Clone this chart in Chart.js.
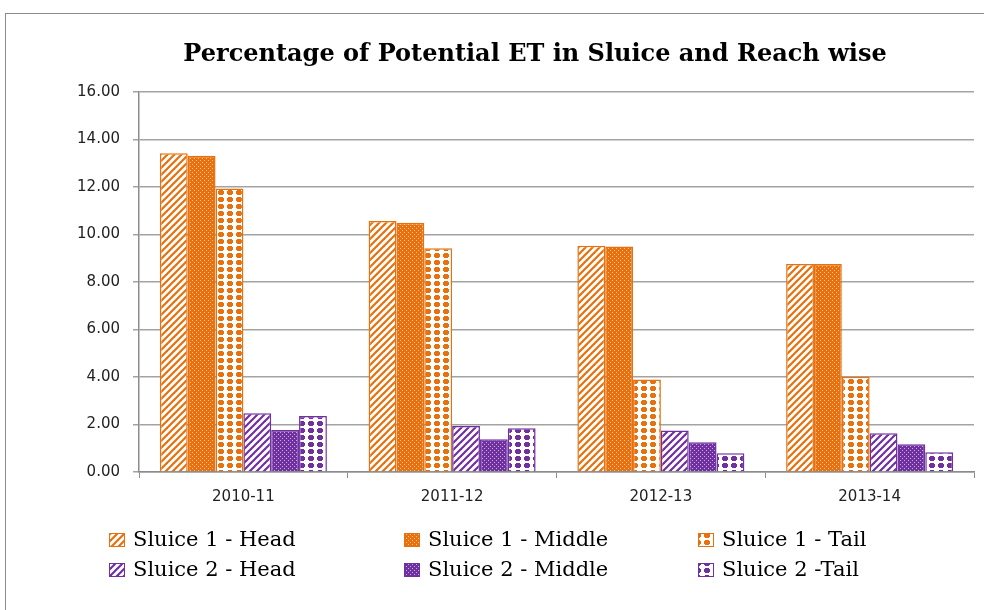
<!DOCTYPE html>
<html>
<head>
<meta charset="utf-8">
<script src="https://cdn.jsdelivr.net/npm/chart.js@4/dist/chart.umd.min.js"></script>
<style>
  html, body { margin: 0; padding: 0; background: #fff; }
  #wrap { position: relative; width: 984px; height: 610px; overflow: hidden; }
  #frame { position: absolute; left: 5px; top: 13px; width: 1000px; height: 700px;
           border-left: 1.5px solid #8c8c8c; border-top: 1.5px solid #8c8c8c; }
  canvas { position: absolute; left: 0; top: 0; }
</style>
</head>
<body>
<div id="wrap">
  <div id="frame"></div>
  <canvas id="chart" width="984" height="610"></canvas>
</div>
<script>
const years = ['2010-11', '2011-12', '2012-13', '2013-14'];
const s1Head = [13.42, 10.57, 9.53, 8.76];
const s1Middle = [13.32, 10.50, 9.50, 8.76];
const s1Tail = [11.94, 9.42, 3.89, 4.01];
const s2Head = [2.47, 1.94, 1.75, 1.63];
const s2Middle = [1.77, 1.38, 1.25, 1.17];
const s2Tail = [2.36, 1.84, 0.79, 0.83];
const seriesNames = ['Sluice 1 - Head', 'Sluice 1 - Middle', 'Sluice 1 - Tail',
                     'Sluice 2 - Head', 'Sluice 2 - Middle', 'Sluice 2 -Tail'];
const chartTitle = 'Percentage of Potential ET in Sluice and Reach wise';

const ORANGE = '#e8710d';
const PURPLE = '#7030a0';

// small canvas tiles used as bar fills
function makePattern(w, h, draw) {
  const c = document.createElement('canvas');
  c.width = w; c.height = h;
  draw(c.getContext('2d'), w, h);
  return document.createElement('canvas').getContext('2d').createPattern(c, 'repeat');
}

function stripes(color) {
  return makePattern(7, 7, (g, w, h) => {
    g.fillStyle = '#fff';
    g.fillRect(0, 0, w, h);
    g.strokeStyle = color;
    g.lineWidth = 2.2;
    [[-7, 7, 7, -7], [0, 7, 7, 0], [0, 14, 14, 0]].forEach(l => {
      g.beginPath(); g.moveTo(l[0], l[1]); g.lineTo(l[2], l[3]); g.stroke();
    });
  });
}

function fineDots(color) {
  return makePattern(4, 4, (g, w, h) => {
    g.fillStyle = color;
    g.fillRect(0, 0, w, h);
    g.fillStyle = 'rgba(255,255,255,0.6)';
    g.fillRect(0, 0, 1, 1);
    g.fillRect(2, 2, 1, 1);
  });
}

function bigDots(color) {
  return makePattern(9, 7, (g, w, h) => {
    g.fillStyle = '#fff';
    g.fillRect(0, 0, w, h);
    g.fillStyle = color;
    g.fillRect(2, 2, 6, 3);
    g.fillRect(3, 1, 4, 5);
  });
}

const values = [s1Head, s1Middle, s1Tail, s2Head, s2Middle, s2Tail];
const fills = [stripes(ORANGE), fineDots(ORANGE), bigDots(ORANGE),
               stripes(PURPLE), fineDots(PURPLE), bigDots(PURPLE)];

const datasets = values.map((v, i) => ({
  label: seriesNames[i],
  data: v,
  backgroundColor: fills[i],
  borderColor: i < 3 ? ORANGE : PURPLE,
  borderWidth: 1.5,
  categoryPercentage: 0.8,
  barPercentage: 1
}));

// title plus a 3 x 2 grid legend under the axis
const extras = {
  id: 'extras',
  afterDraw(chart, args, opts) {
    const ctx = chart.ctx;
    ctx.save();
    ctx.fillStyle = '#000';
    ctx.textAlign = 'center';
    ctx.textBaseline = 'middle';
    ctx.font = opts.titleFont;
    ctx.fillText(opts.title, opts.titleX, opts.titleY);

    ctx.textAlign = 'left';
    ctx.font = opts.font;
    chart.data.datasets.forEach((ds, i) => {
      const x = opts.cols[i % 3];
      const y = opts.rows[Math.floor(i / 3)];
      ctx.fillStyle = ds.backgroundColor;
      ctx.fillRect(x, y - 7, 16, 14);
      ctx.strokeStyle = ds.borderColor;
      ctx.lineWidth = 1;
      ctx.strokeRect(x + 0.5, y - 6.5, 15, 13);
      ctx.fillStyle = '#000';
      ctx.fillText(ds.label, x + 24, y + 1);
    });
    ctx.restore();
  }
};

new Chart(document.getElementById('chart'), {
  type: 'bar',
  data: { labels: years, datasets: datasets },
  plugins: [extras],
  options: {
    responsive: false,
    animation: false,
    layout: { padding: { left: 0, right: 10, top: 92, bottom: 0 } },
    scales: {
      x: {
        afterFit: s => { s.height = 138; },
        grid: { drawOnChartArea: false, drawTicks: true, tickLength: 6, color: '#8c8c8c', offset: true },
        border: { color: '#8c8c8c', width: 1.5 },
        ticks: { color: '#222', padding: 10, font: { family: 'DejaVu Sans', size: 15 } }
      },
      y: {
        min: 0,
        max: 16,
        afterFit: s => { s.width = 139; },
        grid: { color: '#a3a3a3', lineWidth: 1.5, tickLength: 6 },
        border: { color: '#8c8c8c', width: 1.5 },
        ticks: {
          stepSize: 2,
          padding: 13,
          color: '#222',
          font: { family: 'DejaVu Sans', size: 15 },
          callback: v => v.toFixed(2)
        }
      }
    },
    plugins: {
      legend: { display: false },
      tooltip: { enabled: false },
      title: { display: false },
      extras: {
        title: chartTitle,
        titleFont: 'bold 24px "DejaVu Serif"',
        titleX: 535,
        titleY: 55,
        font: '21px "DejaVu Serif"',
        cols: [109, 404, 698],
        rows: [540, 570]
      }
    }
  }
});
</script>
</body>
</html>
